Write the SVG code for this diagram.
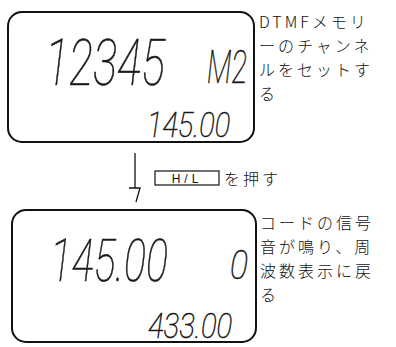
<svg xmlns="http://www.w3.org/2000/svg" width="396" height="347" viewBox="0 0 396 347">
<style>
.box{fill:none;stroke:#111;stroke-width:2}
.lcd{font-family:Roboto,"Liberation Sans",sans-serif;font-style:italic;font-weight:100;fill:#1a1a1a;stroke:#1a1a1a;stroke-width:0.6}
.note{font-family:"Noto Sans CJK JP",sans-serif;font-size:16px;font-weight:300;fill:#111;letter-spacing:3px}
.conn{fill:none;stroke:#111;stroke-width:1.3}
</style>
<rect width="396" height="347" fill="#fff"/>
<g id="display1">
<rect class="box" x="8" y="12" width="246" height="130" rx="14"/>
<text class="lcd" transform="translate(45 85) scale(0.667 1)" font-size="64" textLength="180" lengthAdjust="spacingAndGlyphs">12345</text>
<text class="lcd" transform="translate(207 83) scale(0.615 1)" font-size="46" textLength="65" lengthAdjust="spacingAndGlyphs">M2</text>
<text class="lcd" transform="translate(147 137) scale(0.77 1)" font-size="35" textLength="108" lengthAdjust="spacingAndGlyphs">145.00</text>
</g>
<g id="note1">
<text class="note" x="259" y="28">DTMFメモリ</text>
<text class="note" x="259" y="52">ーのチャンネ</text>
<text class="note" x="259" y="76">ルをセットす</text>
<text class="note" x="259" y="100">る</text>
</g>
<g id="key">
<rect x="155" y="171" width="64" height="14" fill="none" stroke="#111" stroke-width="1.2"/>
<text x="187" y="183" text-anchor="middle" font-family="Liberation Sans,sans-serif" font-size="12" letter-spacing="4" fill="#111">H/L</text>
<text class="note" x="224" y="185" font-size="18">を押す</text>
</g>
<g id="display2">
<rect class="box" x="12" y="210" width="244" height="132" rx="14"/>
<text class="lcd" transform="translate(50 281) scale(0.64 1)" font-size="60" textLength="184" lengthAdjust="spacingAndGlyphs">145.00</text>
<text class="lcd" transform="translate(230 279) scale(0.78 1)" font-size="41" textLength="23" lengthAdjust="spacingAndGlyphs">0</text>
<text class="lcd" transform="translate(148 338) scale(0.78 1)" font-size="35" textLength="108" lengthAdjust="spacingAndGlyphs">433.00</text>
</g>
<g id="note2">
<text class="note" x="260" y="229">コードの信号</text>
<text class="note" x="260" y="253">音が鳴り、周</text>
<text class="note" x="260" y="277">波数表示に戻</text>
<text class="note" x="260" y="301">る</text>
</g>
<g id="connectors">
<path class="conn" d="M135 153 V188"/>
<path class="conn" d="M129 188 H140 L136 202"/>
</g>
</svg>
